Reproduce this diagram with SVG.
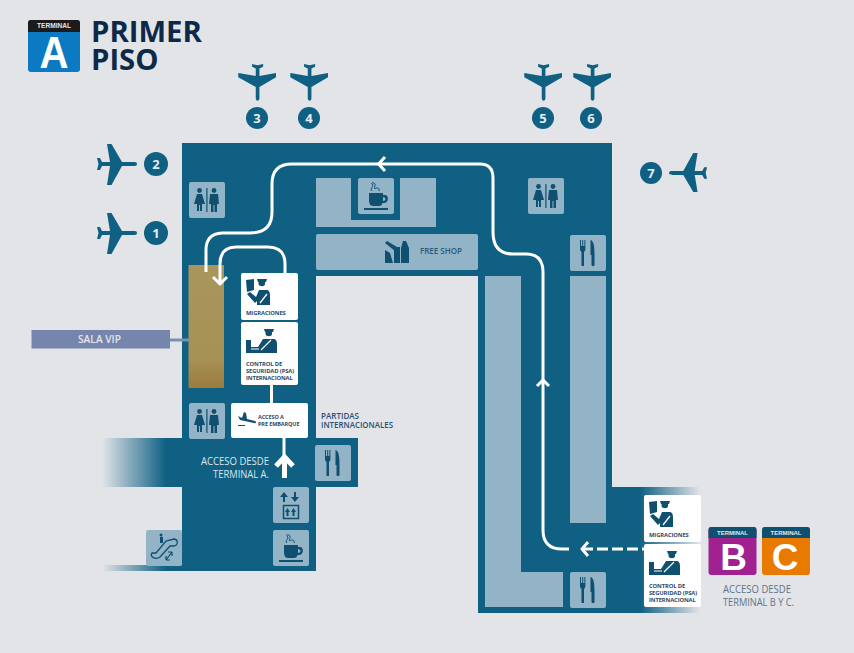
<svg xmlns="http://www.w3.org/2000/svg" width="854" height="653" viewBox="0 0 854 653">
<style>
.f{fill:#0f6083}.t{fill:#93b4c7}.w{fill:#fff}.i{fill:#0f4f70}
.r{fill:none;stroke:#fff;stroke-width:3;stroke-linecap:butt;stroke-linejoin:round}
.s{font-family:"Open Sans","Liberation Sans",sans-serif}
.m{font-family:"Liberation Sans",Arial,sans-serif}
.k{font-size:5.800px;font-weight:700;fill:#2a4a68;letter-spacing:-.1px}
.a{font-size:11px;fill:#dbe8f0}
.g{font-size:11px;fill:#5f7388}
.n{font-size:13px;font-weight:700;fill:#e6eef3;text-anchor:middle}
.h{font-size:6px;font-weight:700;text-anchor:middle;fill:#e6e6e6}
.big{font-size:45px;font-weight:700;fill:#fff;text-anchor:middle}
.bc{font-size:37px}
</style>
<defs>
<linearGradient id="lg" x1="0" x2="1" y1="0" y2="0"><stop offset="0" stop-color="#0f6083" stop-opacity="0"/><stop offset=".8" stop-color="#0f6083"/></linearGradient>
<linearGradient id="rg" x1="0" x2="1" y1="0" y2="0"><stop offset="0" stop-color="#0f6083"/><stop offset="1" stop-color="#0f6083" stop-opacity="0"/></linearGradient>
<linearGradient id="gold" x1="0" x2="0" y1="0" y2="1"><stop offset="0" stop-color="#a9965c"/><stop offset=".75" stop-color="#a79255"/><stop offset="1" stop-color="#9a7c3e"/></linearGradient>
<g id="plane"><path class="f" d="M41 20C41 22 39 22 37 22H26L15.500 41H11L14 22H6L4 26H1L2.500 20 1 14H4L6 18H14L11 0H15.500L26 18H37C39 18 41 18 41 20Z"/></g>
<g id="tile"><rect class="t" width="36" height="36" rx="2"/></g>
<g id="wc"><use href="#tile"/><g class="i"><circle cx="10.500" cy="8.500" r="2.400"/><path d="M8 12H13L16 22H13V29H11V23H10V29H8V22H5Z"/><rect x="17.300" y="6" width="1.200" height="24"/><circle cx="25" cy="8.500" r="2.400"/><path d="M21 12H29L30 22H28V30H25.500V23H24.500V30H22V22H20Z"/></g></g>
<g id="food"><use href="#tile"/><g class="i"><path d="M10 5H11V11H12.200V5H13.200V11H14.400V5H15.400V14C15.400 16 14.400 16.500 14 17V31H11.500V17C11 16.500 10 16 10 14Z"/><path d="M20.500 5C24 6 24.500 12 24.500 20V30C24.500 31.500 21.500 31.500 21.500 30V20H20.500Z"/></g></g>
<g id="coffee"><use href="#tile"/><g class="i"><path d="M11 15H25V17H27C31 17 31 25 26 25H24.500C24 27 23 28 21 28H15C12 28 11 25 11 22ZM25 19V23C28 23 28.500 19 25 19Z"/><rect x="6" y="30" width="24" height="2"/></g><path d="M14 13C11 10 17 9 14 6 13 5 15 4 16 5 19 8 15 9 17 11 19 9 22 10 21 13" fill="none" stroke="#0f4f70" stroke-width="1"/></g>
<g id="officerA"><g class="i"><path d="M5 7 13 6V17L6 19Z"/><path d="M16 6H26L25 9H24V11C24 14 18 14 17.500 11V9H17Z"/><path d="M9 19 15 24 18 17H25C28 17 29 19 29 22V32H16V28L14 30 6 21Z"/></g><path d="M19 30 26 21" stroke="#fff" stroke-width="1.300"/></g>
<g id="officerB"><g class="i"><path d="M23 7H33L32 10H31V12C31 15 25 15 24.500 12V10H24Z"/><path d="M5 18H10V25H17L22 17H32C35 17 36 19 36 22V31H5Z"/></g><path d="M20 28 30 18M10 27H18" stroke="#fff" stroke-width="1.200"/></g>
</defs>
<rect width="854" height="653" fill="#e2e4e8"/>

<g id="building">
<path class="f" d="M182 143H612V487H640V613H478V276H316V438H358V487H316V571H182Z"/>
<rect x="102" y="438" width="80" height="49" fill="url(#lg)"/>
<rect x="102" y="565" width="80" height="6" fill="url(#lg)"/>
<rect x="640" y="487" width="60" height="126" fill="url(#rg)"/>
</g>

<g id="header">
<rect x="28" y="20" width="52" height="52" rx="3" fill="#0b7ac2"/>
<path d="M28 32V23a3 3 0 0 1 3-3H77a3 3 0 0 1 3 3V32Z" fill="#1c1a1b"/>
<text class="m h" x="54" y="27.500" style="font-size:6.500px" textLength="34" lengthAdjust="spacingAndGlyphs">TERMINAL</text>
<text class="m big" x="54" y="68" textLength="29" lengthAdjust="spacingAndGlyphs">A</text>
<text class="s" x="91" y="42" font-size="29.300" font-weight="700" fill="#0c2a47">PRIMER</text>
<text class="s" x="91" y="70" font-size="29.300" font-weight="700" fill="#0c2a47">PISO</text>
</g>

<g id="gates">
<g id="gate-1"><use href="#plane" x="96" y="213"/><circle class="f" cx="156" cy="233" r="12"/><text class="s n" x="156" y="238">1</text></g>
<g id="gate-2"><use href="#plane" x="96" y="144"/><circle class="f" cx="156" cy="164" r="12"/><text class="s n" x="156" y="169">2</text></g>
<g id="gate-3"><use href="#plane" transform="translate(276 63) rotate(90) scale(.92)"/><circle class="f" cx="257" cy="118" r="11"/><text class="s n" x="257" y="123">3</text></g>
<g id="gate-4"><use href="#plane" transform="translate(328 63) rotate(90) scale(.92)"/><circle class="f" cx="309" cy="118" r="11"/><text class="s n" x="309" y="123">4</text></g>
<g id="gate-5"><use href="#plane" transform="translate(562 63) rotate(90) scale(.92)"/><circle class="f" cx="543" cy="118" r="11"/><text class="s n" x="543" y="123">5</text></g>
<g id="gate-6"><use href="#plane" transform="translate(611 63) rotate(90) scale(.92)"/><circle class="f" cx="591" cy="118" r="11"/><text class="s n" x="591" y="123">6</text></g>
<g id="gate-7"><use href="#plane" transform="translate(708 192) rotate(180) scale(.95)"/><circle class="f" cx="651" cy="173" r="11"/><text class="s n" x="651" y="178">7</text></g>
</g>

<g id="areas">
<path class="t" d="M316 178H351V220H400V178H436V227H316Z"/>
<path class="t" d="M485 276H521V572H563V607H485Z"/>
<rect class="t" x="570" y="276" width="36" height="247"/>
</g>
<g id="free-shop">
<rect class="t" x="316" y="234" width="162" height="36" rx="2"/>
<g class="i"><path d="M385 250 390 253 393 263H385Z"/><path d="M385 243 387 241 397 247 395 251Z"/><rect x="394" y="247" width="6" height="16"/><path d="M401 248 403 241H406L409 248V263H401Z"/></g>
<text class="s" x="420" y="254" font-size="8" font-weight="600" fill="#2a5a78" textLength="42" lengthAdjust="spacingAndGlyphs">FREE SHOP</text>
</g>
<g id="sala-vip">
<rect x="188.500" y="265" width="35.500" height="123" rx="1" fill="url(#gold)"/>
<rect x="170" y="338.500" width="19" height="3" fill="#7d8fb0"/>
<rect x="31.500" y="330" width="138.500" height="18.500" fill="#7585ab"/>
<text class="s" x="78" y="343" font-size="10" font-weight="600" fill="#e2e6ee" textLength="43" lengthAdjust="spacingAndGlyphs">SALA VIP</text>
</g>
<g id="wc-1"><use href="#wc" x="189" y="182"/></g>
<g id="wc-2"><use href="#wc" x="189" y="403"/></g>
<g id="wc-3"><use href="#wc" x="528" y="178"/></g>
<g id="cafe-1"><use href="#coffee" x="358" y="178"/></g>
<g id="cafe-2"><use href="#coffee" x="273" y="530"/></g>
<g id="food-1"><use href="#food" x="570" y="235"/></g>
<g id="food-2"><use href="#food" x="315" y="445"/></g>
<g id="food-3"><use href="#food" x="570" y="572"/></g>
<g id="elevator"><use href="#tile" x="273" y="487"/>
<g class="i"><path d="M280 497 284 492 288 497H285V502H283V497Z"/><path d="M294 492H296V497H299L295 502 291 497H294Z"/></g>
<rect x="283.500" y="505.500" width="15" height="13" fill="none" stroke="#0f4f70" stroke-width="1.500"/>
<g class="i"><path d="M286.500 516V512H285L287.500 508 290 512H288.500V516Z"/><path d="M292.500 516V512H291L293.500 508 296 512H294.500V516Z"/></g>
</g>
<g id="escalator"><use href="#tile" x="146" y="530"/>
<path d="M152 553H156L166 541 174 539C179 540 178 546 173 546H170L160 557C156 560 149 557 152 553Z" fill="none" stroke="#0f4f70" stroke-width="1.300"/>
<circle class="i" cx="161" cy="535" r="1.500"/><path class="i" d="M160 537H163V543H160Z"/>
<path d="M166 560 172 552M172 552V556M172 552H168M166 560V556M166 560H170" fill="none" stroke="#0f4f70" stroke-width="1.200"/>
</g>

<g id="connectors">
<path class="r" d="M206 272V250Q206 234 222 233H250Q272 233 272 212V184Q272 164 292 164H480Q493 164 493 178V232Q493 254 513 254H526Q543 254 543 272V530Q543 549 562 549H569"/>
<path class="r" d="M385 157 378.500 164 385 171M537 386 543 380 549 386"/>
<path class="r" d="M285 273V264Q285 247 268 247H236Q220 247 220 264V284"/>
<path class="r" d="M213 277 220 284 227 277"/>
<path class="r" d="M271.500 385V403"/>
<path class="r" d="M284 438V456"/>
<path d="M284.500 478V458M276 466 284.500 457 293 466" fill="none" stroke="#fff" stroke-width="5" stroke-linejoin="miter"/>
<path class="r" d="M588 542 582 549 588 556"/>
<path class="r" d="M582 549H645" stroke-dasharray="11 4"/>
</g>

<g id="migraciones-1"><rect class="w" x="241" y="273" width="57" height="47" rx="2"/><use href="#officerA" x="241" y="273"/><text class="s k" x="246" y="315">MIGRACIONES</text></g>
<g id="control-1"><rect class="w" x="241" y="322" width="57" height="63" rx="2"/><use href="#officerB" x="241" y="322"/><text class="s k" x="246" y="366">CONTROL DE</text><text class="s k" x="246" y="373">SEGURIDAD (PSA)</text><text class="s k" x="246" y="380">INTERNACIONAL</text></g>
<g id="pre-embarque"><rect class="w" x="231" y="403" width="77" height="35" rx="2"/>
<path class="i" d="M238 416 242 418 244 412 246 413 247 419 255 421C257 422 256 424 254 423L240 420Z"/><rect class="i" x="238" y="425" width="7" height="1"/>
<text class="s k" x="258" y="419" style="font-size:5.500px">ACCESO A</text><text class="s k" x="258" y="426" style="font-size:5.500px">PRE EMBARQUE</text></g>
<g id="partidas"><text class="s" x="321" y="419" font-size="8.200" font-weight="600" fill="#2d4f74" textLength="38" lengthAdjust="spacingAndGlyphs">PARTIDAS</text><text class="s" x="321" y="428" font-size="8.200" font-weight="600" fill="#2d4f74" textLength="72" lengthAdjust="spacingAndGlyphs">INTERNACIONALES</text></g>
<g id="acceso-a"><text class="s a" x="201" y="465" textLength="68" lengthAdjust="spacingAndGlyphs">ACCESO DESDE</text><text class="s a" x="213" y="478" textLength="56" lengthAdjust="spacingAndGlyphs">TERMINAL A.</text></g>
<g id="migraciones-2"><rect class="w" x="644" y="495" width="57" height="47" rx="2"/><use href="#officerA" x="644" y="495"/><text class="s k" x="649" y="537">MIGRACIONES</text></g>
<g id="control-2"><rect class="w" x="644" y="544" width="57" height="63" rx="2"/><use href="#officerB" x="644" y="544"/><text class="s k" x="649" y="588">CONTROL DE</text><text class="s k" x="649" y="595">SEGURIDAD (PSA)</text><text class="s k" x="649" y="602">INTERNACIONAL</text></g>
<g id="terminal-b"><rect x="708.500" y="527" width="48" height="48" rx="3" fill="#a0218f"/><path d="M708.500 538V530a3 3 0 0 1 3-3H753.500a3 3 0 0 1 3 3V538Z" fill="#0f4f70"/><text class="m h" x="732.500" y="534.500">TERMINAL</text><text class="m big bc" x="733.500" y="569.500">B</text></g>
<g id="terminal-c"><rect x="762" y="527" width="48" height="48" rx="3" fill="#e87a00"/><path d="M762 538V530a3 3 0 0 1 3-3H807a3 3 0 0 1 3 3V538Z" fill="#0f4f70"/><text class="m h" x="786" y="534.500">TERMINAL</text><text class="m big bc" x="785" y="569.500">C</text></g>
<g id="acceso-bc"><text class="s g" x="723" y="593" textLength="68" lengthAdjust="spacingAndGlyphs">ACCESO DESDE</text><text class="s g" x="723" y="606" textLength="71" lengthAdjust="spacingAndGlyphs">TERMINAL B Y C.</text></g>
</svg>
